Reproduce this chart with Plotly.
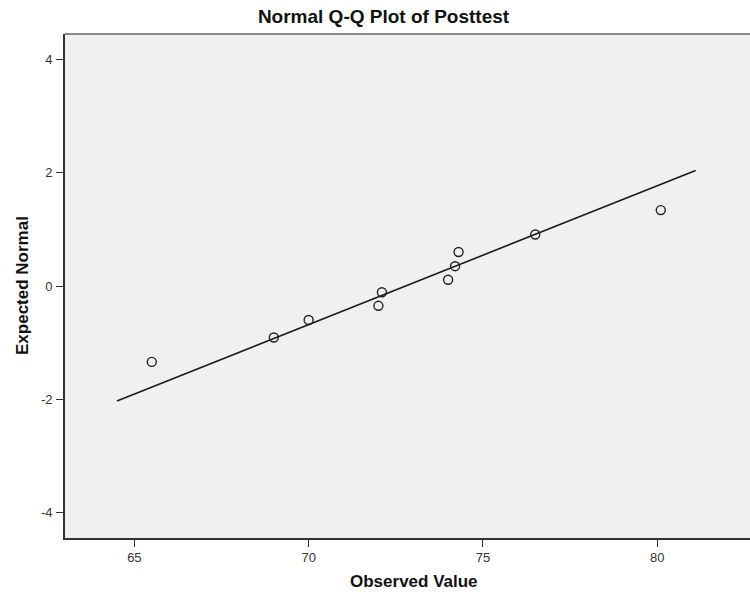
import plotly.graph_objects as go

# Data
observed = [65.5, 69.0, 70.0, 72.0, 72.1, 74.0, 74.2, 74.3, 76.5, 80.1]
expected = [-1.34, -0.91, -0.60, -0.35, -0.11, 0.11, 0.35, 0.60, 0.91, 1.34]
line_x = [64.5, 81.1]
line_y = [-2.03, 2.04]
x_ticks = [65, 70, 75, 80]
y_ticks = [-4, -2, 0, 2, 4]

FONT = "Liberation Sans, Arial, sans-serif"

fig = go.Figure()
fig.add_trace(go.Scatter(
    x=line_x, y=line_y, mode="lines",
    line=dict(color="#1a1a1a", width=1.6),
    showlegend=False, hoverinfo="skip"))
fig.add_trace(go.Scatter(
    x=observed, y=expected, mode="markers",
    marker=dict(symbol="circle-open", size=9, color="#222222",
                line=dict(width=1.4, color="#222222")),
    showlegend=False))

W, H = 750, 594
L, R, T, B = 65, 0, 34, 56

fig.update_layout(
    width=W, height=H,
    margin=dict(l=L, r=R, t=T, b=B, pad=0),
    paper_bgcolor="white",
    plot_bgcolor="#F0F0F0",
    font=dict(family=FONT, color="#222222"),
    title=dict(text="<b>Normal Q-Q Plot of Posttest</b>",
               font=dict(family=FONT, size=19, color="#111111"),
               x=383.5 / W, xref="container",
               xanchor="center", y=1 - 16 / H, yref="container",
               yanchor="middle"),
    xaxis=dict(range=[63.01, 82.66], tickvals=x_ticks,
               ticktext=[str(v) for v in x_ticks],
               showgrid=False, zeroline=False,
               showline=True, linecolor="#333333", linewidth=1.6,
               ticks="outside", ticklen=7, tickwidth=1.4, tickcolor="#333333",
               tickfont=dict(family=FONT, size=13, color="#333333"),
               fixedrange=True),
    yaxis=dict(range=[-4.45, 4.45], tickvals=y_ticks,
               ticktext=[str(v) for v in y_ticks],
               showgrid=False, zeroline=False,
               showline=True, linecolor="#333333", linewidth=1.6,
               ticks="outside", ticklen=7, tickwidth=1.4, tickcolor="#333333",
               tickfont=dict(family=FONT, size=13, color="#333333"),
               ticklabelstandoff=1,
               fixedrange=True),
    shapes=[dict(type="line", xref="paper", yref="paper",
                 x0=0, x1=1, y0=1, y1=1,
                 line=dict(color="#888888", width=2))],
    annotations=[
        dict(text="<b>Observed Value</b>", xref="paper", yref="paper",
             x=(413.5 - L) / (W - L - R), y=-(593 - (H - B)) / (H - T - B),
             xanchor="center", yanchor="bottom", showarrow=False,
             font=dict(family=FONT, size=17, color="#111111")),
        dict(text="<b>Expected Normal</b>", xref="paper", yref="paper",
             x=-(L - 22) / (W - L - R), y=((H - B) - 286) / (H - T - B),
             xanchor="center", yanchor="middle", showarrow=False,
             textangle=-90,
             font=dict(family=FONT, size=17, color="#111111")),
    ],
)

fig.write_html(
    "out.html",
    config={"displayModeBar": False},
    post_script="document.body.style.margin='0';document.body.style.overflow='hidden';",
)
